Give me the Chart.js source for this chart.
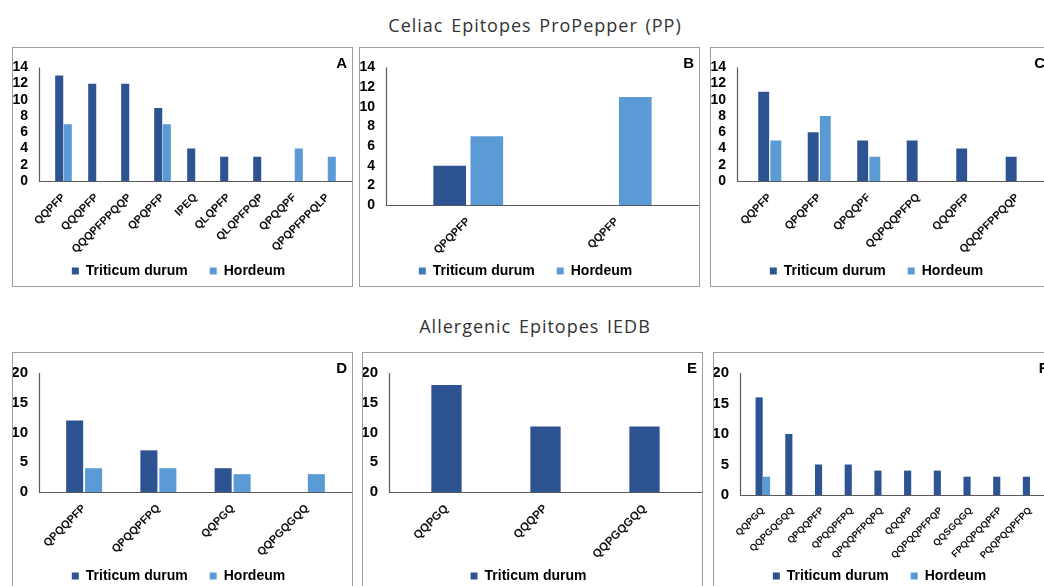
<!DOCTYPE html>
<html>
<head>
<meta charset="utf-8">
<script src="https://cdn.jsdelivr.net/npm/chart.js@4.4.1/dist/chart.umd.min.js"></script>
<style>
  html, body { margin:0; padding:0; background:#fff; width:1044px; height:586px; overflow:hidden; position:relative; }
  .title { position:absolute; left:0; width:1070px; text-align:center; font:18px 'Open Sans', sans-serif; color:#333; line-height:20px; letter-spacing:1px; word-spacing:2px; }
  .box { position:absolute; width:339px; height:238px; border:1px solid #9e9e9e; }
  .box canvas { position:absolute; left:0; top:0; }
  .tag { position:absolute; right:5px; top:6px; font:bold 15px 'Liberation Sans', Arial, sans-serif; color:#000; }
</style>
</head>
<body>
<div class="title" style="top:15px">Celiac Epitopes ProPepper (PP)</div>
<div class="title" style="top:316px">Allergenic Epitopes IEDB</div>

<div class="box" style="left:12px;top:47px"><canvas id="cA" width="339" height="240"></canvas><span class="tag">A</span></div>
<div class="box" style="left:359px;top:47px"><canvas id="cB" width="339" height="240"></canvas><span class="tag">B</span></div>
<div class="box" style="left:710px;top:47px"><canvas id="cC" width="339" height="240"></canvas><span class="tag">C</span></div>
<div class="box" style="left:12px;top:352px"><canvas id="cD" width="339" height="240"></canvas><span class="tag">D</span></div>
<div class="box" style="left:362px;top:352px"><canvas id="cE" width="339" height="240"></canvas><span class="tag">E</span></div>
<div class="box" style="left:713px;top:352px"><canvas id="cF" width="339" height="240"></canvas><span class="tag">F</span></div>

<script>
// ---- data ----
const seriesNames = ['Triticum durum', 'Hordeum'];

const labelsA  = ['QQPFP','QQQPFP','QQQPFPPQQP','QPQPFP','IPEQ','QLQPFP','QLQPFPQP','QPQQPF','QPQPFPPQLP'];
const durumA   = [13, 12, 12, 9, 4, 3, 3, 0, 0];
const hordeumA = [7, 0, 0, 7, 0, 0, 0, 4, 3];

const labelsB  = ['QPQPFP','QQPFP'];
const durumB   = [4, 0];
const hordeumB = [7, 11];

const labelsC  = ['QQPFP','QPQPFP','QPQQPF','QQPQQPFPQ','QQQPFP','QQQPFPPQQP'];
const durumC   = [11, 6, 5, 5, 4, 3];
const hordeumC = [5, 8, 3, 0, 0, 0];

const labelsD  = ['QPQQPFP','QPQQPFPQ','QQPGQ','QQPGQGQQ'];
const durumD   = [12, 7, 4, 0];
const hordeumD = [4, 4, 3, 3];

const labelsE  = ['QQPGQ','QQQPP','QQPGQGQQ'];
const durumE   = [18, 11, 11];

const labelsF  = ['QQPGQ','QQPGQGQQ','QPQQPFP','QPQQPFPQ','QPQQPFPQPQ','QQQPP','QQPQQPFPQP','QQSGQGQ','FPQQPQQPFP','PQQPQQPFPQ'];
const durumF   = [16, 10, 5, 5, 4, 4, 4, 3, 3, 3];
const hordeumF = [3, 0, 0, 0, 0, 0, 0, 0, 0, 0];

const yMaxPP = 14, yStepPP = 2;     // celiac row
const yMaxIE = 20, yStepIE = 5;     // allergenic row

// ---- drawing ----
const DARK = '#2e5392', LIGHT = '#5b9bd5';
const FONT = "'Liberation Sans', Arial, sans-serif";
const H = 240, LEGEND_H = 46;

// excel-style axis lines, a bit wider than the category band
const axisLines = {
  id: 'axisLines',
  afterDatasetsDraw(chart, args, o) {
    const { ctx, chartArea: a } = chart;
    const x0 = Math.round(a.left - o.inset) + .5, y0 = Math.round(a.bottom) + .5;
    ctx.save();
    ctx.strokeStyle = '#5a5a5a';
    ctx.lineWidth = 1.2;
    ctx.beginPath();
    ctx.moveTo(x0, a.top);
    ctx.lineTo(x0, y0);
    ctx.lineTo(a.right + o.inset, y0);
    ctx.stroke();
    ctx.restore();
  }
};

function panel(id, labels, sets, p) {
  new Chart(document.getElementById(id), {
    type: 'bar',
    data: {
      labels,
      datasets: sets.map(s => ({
        label: s.name, data: s.data, backgroundColor: s.color,
        categoryPercentage: p.cat, barPercentage: p.bar
      }))
    },
    options: {
      responsive: false,
      animation: false,
      layout: { padding: { top: p.top, right: 8, bottom: 0, left: 0 } },
      plugins: {
        tooltip: { enabled: false },
        axisLines: { inset: 8 },
        legend: {
          position: 'bottom',
          labels: {
            color: '#000', boxWidth: 7, boxHeight: 7, padding: 22,
            font: { family: FONT, size: 14, weight: 'bold' },
            generateLabels: c => Chart.defaults.plugins.legend.labels.generateLabels(c).map((l, i) => {
              if (p.legendFill) { l.fillStyle = p.legendFill[i]; }
              l.lineWidth = 0;
              return l;
            })
          }
        }
      },
      scales: {
        x: {
          grid: { display: false }, border: { display: false },
          ticks: { autoSkip: false, minRotation: 45, maxRotation: 45, padding: 2, labelOffset: 0, color: '#111',
                   font: { family: FONT, size: p.xFont, weight: 'bold' } },
          afterFit: s => {
            s.height = H - LEGEND_H - p.bottom;
            s._computeLabelArea = () => undefined;   // let slanted labels run into the legend band
          }
        },
        y: {
          min: 0, max: p.max,
          grid: { display: false }, border: { display: false },
          ticks: { stepSize: p.step, autoSkip: false, padding: 11, color: '#000',
                   font: { family: FONT, size: p.yFont, weight: 'bold' } },
          afterFit: s => { s.width = 34; }
        }
      }
    },
    plugins: [axisLines]
  });
}

const two = (d, h) => [{ name: seriesNames[0], data: d, color: DARK }, { name: seriesNames[1], data: h, color: LIGHT }];

panel('cA', labelsA, two(durumA, hordeumA), { top: 13, bottom: 133, max: yMaxPP, step: yStepPP, cat: .52, bar: .94, xFont: 11, yFont: 14 });
panel('cB', labelsB, two(durumB, hordeumB), { top: 13, bottom: 157, max: yMaxPP, step: yStepPP, cat: .5, bar: .88, xFont: 11, yFont: 14, legendFill: ['#3f7cbc', LIGHT] });
panel('cC', labelsC, two(durumC, hordeumC), { top: 13, bottom: 133, max: yMaxPP, step: yStepPP, cat: .49, bar: .9, xFont: 11, yFont: 14 });
panel('cD', labelsD, two(durumD, hordeumD), { top: 12, bottom: 139, max: yMaxIE, step: yStepIE, cat: .51, bar: .9, xFont: 11, yFont: 15 });
panel('cE', labelsE, [{ name: seriesNames[0], data: durumE, color: DARK }], { top: 12, bottom: 139, max: yMaxIE, step: yStepIE, cat: .34, bar: .9, xFont: 11.5, yFont: 15 });
panel('cF', labelsF, two(durumF, hordeumF), { top: 13, bottom: 142, max: yMaxIE, step: yStepIE, cat: .5, bar: .96, xFont: 9.5, yFont: 15 });
</script>
</body>
</html>
